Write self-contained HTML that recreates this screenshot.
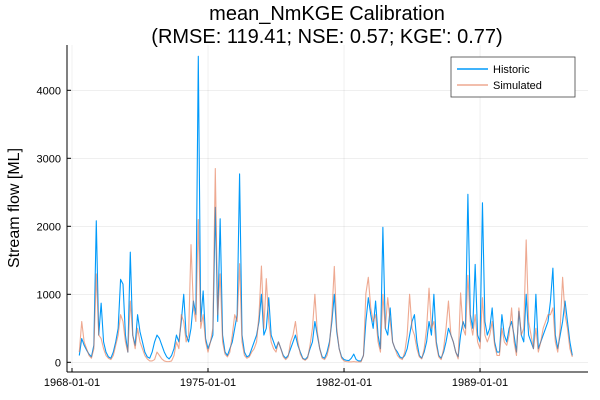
<!DOCTYPE html>
<html><head><meta charset="utf-8"><style>
body{margin:0;background:#fff}
svg{display:block;font-family:"Liberation Sans",sans-serif}
</style></head><body>
<svg id="chart" width="600" height="400" viewBox="0 0 600 400">
<text x="327" y="20" font-size="20" text-anchor="middle">mean_NmKGE Calibration</text>
<text x="327" y="43" font-size="20" text-anchor="middle">(RMSE: 119.41; NSE: 0.57; KGE': 0.77)</text>
<text transform="translate(19,208) rotate(-90)" font-size="16" text-anchor="middle">Stream flow [ML]</text>
<g id="grid"></g>
<g id="series"></g>
<line x1="67" y1="45" x2="67" y2="372" stroke="#000" stroke-width="1"/>
<line x1="67" y1="372" x2="588" y2="372" stroke="#000" stroke-width="1"/>
<g id="ticks"></g>
<g>
<rect x="451" y="57" width="124" height="40" fill="#fff" stroke="#444" stroke-width="0.8"/>
<line x1="457" y1="69" x2="488" y2="69" stroke="#009AFA" stroke-width="1.5"/>
<text x="493" y="73" font-size="11">Historic</text>
<line x1="457" y1="85" x2="488" y2="85" stroke="#E36F47" stroke-opacity="0.6" stroke-width="1.5"/>
<text x="493" y="89" font-size="11">Simulated</text>
</g>
</svg>
<script>
const startYear = 1968.375;
const stepYears = 0.125;
const historic = [
100,350,250,180,120,
80,250,2080,400,870,300,150,80,
60,150,300,500,1220,1150,400,150,
1620,400,250,700,450,300,150,80,
60,150,300,400,350,250,150,80,
50,100,200,400,300,600,1000,400,
300,500,900,700,4500,600,1050,350,
200,300,400,2280,600,2110,400,150,
100,200,300,500,700,2770,400,150,
80,100,200,300,400,600,1000,400,
500,950,400,300,200,300,200,100,
60,100,200,300,400,250,150,60,
40,80,200,300,600,400,200,80,
60,150,300,600,1000,450,200,80,
40,30,25,60,120,40,20,20,
100,600,950,700,500,900,400,200,
1985,500,400,800,300,200,150,80,
60,100,200,400,600,700,300,100,
60,150,300,600,400,1000,300,100,
60,150,300,500,400,300,150,80,
400,600,500,2470,700,500,1440,400,
300,2345,600,400,500,800,300,150,
150,700,400,300,500,600,400,150,
750,400,300,1000,400,300,200,1000,
200,300,400,500,600,900,1385,400,
200,400,600,900,600,300,100
];
const simulated = [
150,600,300,200,100,
60,200,1300,400,350,200,100,60,
40,100,250,400,700,600,300,150,
900,400,200,500,300,200,100,50,
20,20,40,150,100,50,20,10,
10,20,100,300,200,700,600,300,
400,1730,800,600,2100,500,700,300,
150,300,500,2850,700,1300,300,120,
80,150,400,700,600,1450,300,100,
60,80,150,200,300,700,1415,500,
1230,600,300,200,150,300,200,80,
40,80,300,400,600,300,120,50,
30,60,250,500,1000,450,200,60,
40,100,250,700,1410,500,200,60,
20,10,5,5,10,5,5,5,
100,1010,1250,800,600,700,300,150,
1000,500,950,600,300,200,100,60,
40,150,400,1000,500,400,200,80,
50,200,500,1090,500,600,250,80,
40,200,500,900,400,300,150,50,
1020,500,400,1280,600,400,700,300,
200,950,400,300,400,600,250,100,
100,500,300,250,400,800,300,100,
800,400,500,1800,600,400,200,500,
150,300,500,600,700,700,800,300,
150,500,1250,700,500,200,80
];
const yTicks = [0,1000,2000,3000,4000];
const xTickYears = [1968,1975,1982,1989];
const xTickLabels = ["1968-01-01","1975-01-01","1982-01-01","1989-01-01"];

const NS = "http://www.w3.org/2000/svg";
function xs(yr){ return 72 + (yr - 1968) * 19.43; }
function ys(v){ return 362.3 - v * 0.068; }
function mk(tag, attrs, parent){ const e = document.createElementNS(NS, tag); for (const k in attrs) e.setAttribute(k, attrs[k]); parent.appendChild(e); return e; }

const grid = document.getElementById('grid');
const ticks = document.getElementById('ticks');
yTicks.forEach(v => {
  const g = mk('line', {x1:67, x2:588, y1:ys(v), y2:ys(v), stroke:'#000', 'stroke-opacity':0.1, 'stroke-width':0.6}, grid);
  
  
  const t = mk('line', {x1:67, x2:71, y1:ys(v), y2:ys(v), stroke:'#000'}, ticks);
  
  
  const l = mk('text', {x:61, y:ys(v)+4, 'font-size':11, 'text-anchor':'end'}, ticks);
  l.textContent = v;
  
  
});
xTickYears.forEach((yr, i) => {
  const g = mk('line', {x1:xs(yr), x2:xs(yr), y1:45, y2:372, stroke:'#000', 'stroke-opacity':0.1, 'stroke-width':0.6}, grid);
  
  
  const t = mk('line', {x1:xs(yr), x2:xs(yr), y1:372, y2:368, stroke:'#000'}, ticks);
  
  
  const l = mk('text', {x:xs(yr), y:386, 'font-size':11, 'text-anchor':'middle'}, ticks);
  l.textContent = xTickLabels[i];
  
  
});

function pathFor(arr){
  return arr.map((v, i) => (i ? 'L' : 'M') + xs(startYear + i * stepYears).toFixed(2) + ',' + ys(v).toFixed(2)).join(' ');
}
const series = document.getElementById('series');
const ph = mk('path', {d:pathFor(historic), fill:'none', stroke:'#009AFA', 'stroke-width':1.1, 'stroke-linejoin':'round'}, series);


const psim = mk('path', {d:pathFor(simulated), fill:'none', stroke:'#E36F47', 'stroke-opacity':0.6, 'stroke-width':1.1, 'stroke-linejoin':'round'}, series);


</script>
</body></html>
